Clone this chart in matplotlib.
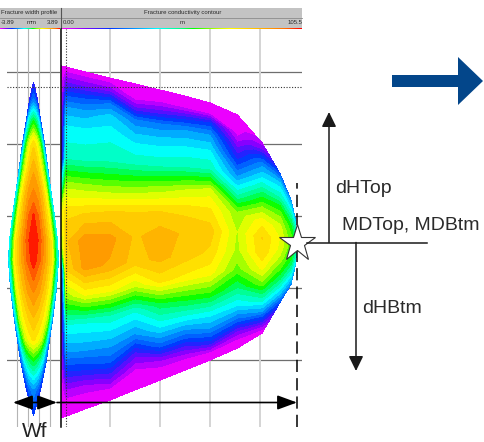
import matplotlib

matplotlib.use("Agg")
import matplotlib.pyplot as plt
import numpy as np
from matplotlib.colors import LinearSegmentedColormap
from matplotlib.patches import Polygon, Rectangle

plt.rcParams["font.family"] = ["Liberation Sans", "DejaVu Sans"]

# fracture conductivity contour: columns along the fracture length (m)
col_x = [0.0, 2.2, 10.5, 21.5, 32.4, 43.3, 54.3, 65.2, 77.1, 88.0, 95.9, 100.7, 102.5, 103.4]
col_top = [2698.3, 2698.6, 2700.0, 2701.7, 2703.3, 2705.0, 2706.7, 2708.6,
           2711.9, 2719.7, 2728.3, 2735.6, 2740.6, 2746.9]
col_btm = [2796.1, 2795.6, 2793.6, 2791.1, 2788.3, 2785.6, 2782.8, 2780.0,
           2776.7, 2772.5, 2763.9, 2758.9, 2753.9, 2748.1]
# relative position between top (0) and bottom (1) of the fracture
s_rows = [0, 0.04, 0.08, 0.12, 0.18, 0.26, 0.34, 0.42, 0.5,
          0.58, 0.66, 0.74, 0.82, 0.88, 0.93, 0.97, 1.0]
# normalized conductivity, one profile per column (top -> bottom)
cond_cols = [
    [0, 0, 0, 0, 0, 0.02, 0.38, 0.68, 0.6, 0.05, 0, 0, 0, 0, 0, 0, 0],
    [0, 0.1, 0.22, 0.32, 0.4, 0.45, 0.64, 0.76, 0.8, 0.77, 0.62, 0.42, 0.3, 0.17, 0.06, 0.01, 0],
    [0, 0.1, 0.23, 0.32, 0.4, 0.45, 0.63, 0.77, 0.87, 0.86, 0.7, 0.43, 0.32, 0.2, 0.07, 0.01, 0],
    [0, 0.1, 0.27, 0.36, 0.41, 0.46, 0.62, 0.78, 0.86, 0.84, 0.7, 0.45, 0.33, 0.24, 0.12, 0.02, 0],
    [0, 0, 0.12, 0.28, 0.37, 0.45, 0.62, 0.77, 0.8, 0.79, 0.66, 0.43, 0.3, 0.14, 0.04, 0, 0],
    [0, 0.03, 0.14, 0.28, 0.37, 0.45, 0.63, 0.77, 0.83, 0.82, 0.74, 0.52, 0.38, 0.25, 0.08, 0.01, 0],
    [0, 0.02, 0.17, 0.3, 0.38, 0.46, 0.65, 0.76, 0.8, 0.79, 0.72, 0.55, 0.38, 0.24, 0.1, 0.01, 0],
    [0, 0.02, 0.2, 0.3, 0.38, 0.46, 0.67, 0.74, 0.79, 0.76, 0.71, 0.57, 0.4, 0.3, 0.18, 0.03, 0],
    [0, 0, 0.02, 0.08, 0.17, 0.3, 0.45, 0.62, 0.65, 0.64, 0.6, 0.5, 0.38, 0.25, 0.1, 0.02, 0],
    [0.05, 0.12, 0.22, 0.3, 0.38, 0.5, 0.62, 0.72, 0.77, 0.76, 0.7, 0.6, 0.45, 0.32, 0.18, 0.06, 0],
    [0.22, 0.3, 0.36, 0.4, 0.45, 0.55, 0.62, 0.67, 0.69, 0.68, 0.64, 0.58, 0.5, 0.42, 0.35, 0.28, 0.22],
    [0.28, 0.33, 0.37, 0.41, 0.46, 0.52, 0.56, 0.58, 0.59, 0.58, 0.56, 0.52, 0.46, 0.41, 0.36, 0.32, 0.28],
    [0.32, 0.35, 0.38, 0.41, 0.44, 0.47, 0.49, 0.5, 0.5, 0.5, 0.49, 0.47, 0.44, 0.41, 0.38, 0.35, 0.32],
    [0.4, 0.4, 0.4, 0.4, 0.4, 0.4, 0.4, 0.4, 0.4, 0.4, 0.4, 0.4, 0.4, 0.4, 0.4, 0.4, 0.4],
]

# fracture width profile: depth (m), half width (mm), value across half width
lens_depth = [2702.8, 2707.8, 2713.3, 2720.0, 2727.2, 2734.2, 2740.0, 2746.7,
              2752.2, 2760.0, 2768.9, 2774.4, 2780.0, 2788.3, 2795.3]
lens_half = [0.0, 0.59, 1.03, 1.62, 2.13, 2.64, 3.08, 3.52,
             3.67, 3.38, 2.79, 2.35, 1.91, 1.03, 0.0]
lens_u = [0, 0.25, 0.5, 0.75, 1.0]
lens_vals = [
    [0.15, 0.15, 0.15, 0.15, 0.15],
    [0.28, 0.26, 0.24, 0.2, 0.15],
    [0.53, 0.5, 0.45, 0.38, 0.2],
    [0.76, 0.72, 0.64, 0.5, 0.25],
    [0.84, 0.8, 0.72, 0.6, 0.3],
    [0.9, 0.87, 0.8, 0.67, 0.35],
    [0.97, 0.92, 0.82, 0.7, 0.38],
    [1.0, 0.95, 0.85, 0.72, 0.38],
    [0.99, 0.93, 0.84, 0.72, 0.36],
    [0.9, 0.86, 0.79, 0.68, 0.32],
    [0.8, 0.77, 0.72, 0.62, 0.28],
    [0.74, 0.71, 0.65, 0.52, 0.25],
    [0.55, 0.52, 0.47, 0.38, 0.22],
    [0.3, 0.28, 0.26, 0.23, 0.18],
    [0.2, 0.2, 0.2, 0.2, 0.2],
]

cmap = LinearSegmentedColormap.from_list(
    "frac",
    [(0.0, "#ff00ff"), (0.1, "#8000ff"), (0.2, "#0030ff"), (0.3, "#0090ff"),
     (0.4, "#00ffff"), (0.5, "#00ff80"), (0.55, "#00ff00"), (0.65, "#c0ff00"),
     (0.7, "#ffff00"), (0.78, "#ffd000"), (0.86, "#ffa000"), (0.93, "#ff7000"),
     (1.0, "#ff0000")],
)
levels = np.linspace(0, 1.0001, 27)

W, H = 484, 442
fig = plt.figure(figsize=(W / 100, H / 100), dpi=100)


def px_box(x0, y0, x1, y1):
    return [x0 / W, 1 - y1 / H, (x1 - x0) / W, (y1 - y0) / H]


depth_lim = (2798.6, 2688.06)
ax_w = fig.add_axes(px_box(7, 29, 60, 427))
ax_c = fig.add_axes(px_box(61, 29, 302, 427))
ax_w.set_xlim(-3.89, 3.89)
ax_c.set_xlim(0, 105.5)
for ax in (ax_w, ax_c):
    ax.set_ylim(*depth_lim)
    ax.axis("off")
    for d in [2700, 2720, 2740, 2760, 2780]:
        ax.axhline(d, color="#6e6e6e", lw=0.9, zorder=0)
    ax.axhline(2704.2, color="#333333", lw=0.8, ls=(0, (1, 1.5)), zorder=6)

for gx in [-2.42, -0.81, 0.81, 2.42]:
    ax_w.axvline(gx, color="#b4b4b4", lw=0.8, zorder=0)
for gx in [21.5, 43.3, 65.2, 87.1]:
    ax_c.axvline(gx, color="#d4d4d4", lw=1.4, zorder=0)

# conductivity contour
xs = np.array(col_x)
top = np.array(col_top)
btm = np.array(col_btm)
s = np.array(s_rows)[:, None]
X = np.tile(xs, (len(s_rows), 1))
Y = top[None, :] + s * (btm - top)[None, :]
Z = np.array(cond_cols).T
ax_c.contourf(X, Y, Z, levels=levels, cmap=cmap, zorder=2)
ax_c.axvline(2.0, color="#333333", lw=0.8, ls=(0, (1, 1.5)), zorder=6)

# width profile
u_full = np.array([-u for u in lens_u[::-1]] + lens_u[1:])
vals = np.array([row[::-1] + row[1:] for row in lens_vals])
LX = u_full[None, :] * np.array(lens_half)[:, None]
LY = np.array(lens_depth)[:, None] * np.ones_like(u_full)[None, :]
ax_w.contourf(LX, LY, vals, levels=levels, cmap=cmap, zorder=2)

# fracture tip marker
tip_x = col_x[-1]
tip_d = (col_top[-1] + col_btm[-1]) / 2
ax_c.axvline(tip_x, ymin=0, ymax=0.613, color="black", lw=1.1,
             ls=(0, (8, 4)), zorder=7)
ax_c.plot(tip_x, tip_d, marker="*", ms=28, mfc="white", mec="#333333",
          mew=0.8, zorder=9, clip_on=False)

# overlay in pixel space: header, arrows, labels
ax_o = fig.add_axes([0, 0, 1, 1])
ax_o.patch.set_alpha(0)
grad = np.linspace(0, 1, 256)[None, :]
ax_o.imshow(grad, extent=(0, 60, 29.5, 27.8), cmap=cmap, aspect="auto")
ax_o.imshow(grad, extent=(61, 302, 29.5, 27.8), cmap=cmap, aspect="auto")
ax_o.set_xlim(0, W)
ax_o.set_ylim(H, 0)
ax_o.axis("off")

ax_o.add_patch(Rectangle((0, 8), 302, 20, fc="#c3c3c3", ec="none"))
ax_o.plot([0, 302], [17.5, 17.5], color="#8c8c8c", lw=0.6)
ax_o.plot([60.5, 60.5], [8, 28], color="#555555", lw=0.8)
ax_o.plot([60.5, 60.5], [29, 427], color="black", lw=1.1)
hdr = dict(fontsize=4.3, color="#2a2a2a", va="center")
ax_o.text(1, 12.8, "Fracture width profile", ha="left", **hdr)
ax_o.text(183, 12.8, "Fracture conductivity contour", ha="center", **hdr)
ax_o.text(1, 22.8, "-3.89", ha="left", **hdr)
ax_o.text(32, 22.8, "mm", ha="center", **hdr)
ax_o.text(59, 22.8, "3.89", ha="right", **hdr)
ax_o.text(63, 22.8, "0.00", ha="left", **hdr)
ax_o.text(182, 22.8, "m", ha="center", **hdr)
ax_o.text(302, 22.8, "105.5", ha="right", **hdr)

arrow_k = dict(color="black", lw=1.2, mutation_scale=20, shrinkA=0, shrinkB=0)
ax_o.annotate("", xy=(13, 402.5), xytext=(57, 402.5),
              arrowprops=dict(arrowstyle="<|-|>,head_length=0.6,head_width=0.22", **arrow_k))
ax_o.annotate("", xy=(297, 402.5), xytext=(57, 402.5),
              arrowprops=dict(arrowstyle="-|>,head_length=0.6,head_width=0.22", **arrow_k))
ax_o.text(35, 441, "Wf", fontsize=15, ha="center", va="bottom", color="#222222")

line_k = dict(color="#1a1a1a", lw=1.1, mutation_scale=20, shrinkA=0, shrinkB=0)
ax_o.annotate("", xy=(329, 112), xytext=(329, 242.5),
              arrowprops=dict(arrowstyle="-|>,head_length=0.45,head_width=0.22", **line_k))
ax_o.annotate("", xy=(356, 371), xytext=(356, 242.5),
              arrowprops=dict(arrowstyle="-|>,head_length=0.45,head_width=0.22", **line_k))
ax_o.plot([307, 427], [242.5, 242.5], color="#1a1a1a", lw=1.1)
lab = dict(fontsize=14, color="#2b2b2b", ha="left", va="baseline")
ax_o.text(335, 193, "dHTop", **lab)
ax_o.text(342, 230, "MDTop, MDBtm", **lab)
ax_o.text(362, 313, "dHBtm", **lab)

ax_o.add_patch(Polygon([(392, 75), (458, 75), (458, 57), (483, 81),
                        (458, 105), (458, 87), (392, 87)],
                       closed=True, fc="#03468a", ec="none"))

fig.savefig("out.png", dpi=100, facecolor="white")
